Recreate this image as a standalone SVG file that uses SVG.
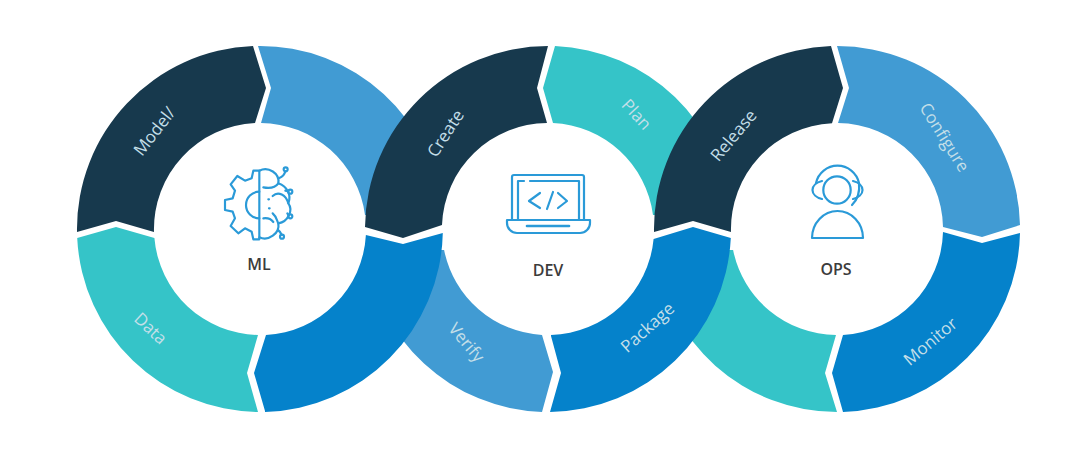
<svg xmlns="http://www.w3.org/2000/svg" width="1080" height="449" viewBox="0 0 1080 449">
<style>
.dark{fill:#17394d}.light{fill:#419bd3}.teal{fill:#35c4c8}.blue{fill:#0582cb}
.seg{font-family:"Open Sans","Liberation Sans",sans-serif;font-size:17px;fill:#c4dfe8;text-anchor:middle;dominant-baseline:central}
.hub{font-family:"Open Sans","Liberation Sans",sans-serif;font-size:16px;font-weight:600;fill:#3c3c3c;text-anchor:middle;dominant-baseline:central}
.ico{fill:none;stroke:#2a9ad8;stroke-width:2.2;stroke-linecap:round;stroke-linejoin:round}
</style>
<rect width="1080" height="449" fill="#fff"/>
<g id="connectors"/>
<g id="under-segments">
<g id="seg-ml-top"><path class="light" d="M258,46 A183,183 0 0 1 442.5,215 L365,215 A106,106 0 0 0 261,123 L271,88 Z"/></g>
<g id="seg-verify"><path class="light" d="M542,335 L553,372 L542,411.9 A183,183 0 0 1 366.2,250 L444.1,250 A106,106 0 0 0 542,335 Z"/><text class="seg" transform="translate(467,342) rotate(50)">Verify</text></g>
<g id="seg-plan"><path class="teal" d="M555,46.1 A183,183 0 0 1 730.5,215 L653,215 A106,106 0 0 0 553,123 L543,88 Z"/><text class="seg" transform="translate(637,114) rotate(47)">Plan</text></g>
<g id="seg-ops-bottom"><path class="teal" d="M836,335 L825,373 L837,412 A183,183 0 0 1 655.2,250 L733.1,250 A106,106 0 0 0 836,335 Z"/></g>
</g>
<g id="seg-model"><path class="dark" d="M77,232 A183,183 0 0 1 253,46.1 L266,88 L255,123.1 A106,106 0 0 0 154,232 L116,221 Z"/><text class="seg" transform="translate(154,131) rotate(-52)">Model/</text></g>
<g id="seg-data"><path class="teal" d="M77.2,238 L116,227 L154.4,238 A106,106 0 0 0 258,335 L247,373 L258,412 A183,183 0 0 1 77.2,238 Z"/><text class="seg" transform="translate(151,328) rotate(43)">Data</text></g>
<g id="seg-ml-bottom"><path class="blue" d="M265,411 L254,373 L266,335 A106,106 0 0 0 365.9,235 L403,244 L442.8,233 A183,183 0 0 1 265,411.9 Z"/></g>
<g id="seg-create"><path class="dark" d="M548,46 L537,88 L547,123 A106,106 0 0 0 442,225 L403,238 L365,227 A183,183 0 0 1 548,46 Z"/><text class="seg" transform="translate(445,133) rotate(-57)">Create</text></g>
<g id="seg-package"><path class="blue" d="M551,336 L561,373 L550,412 A183,183 0 0 0 730.8,238 L693,227 L653.6,239 A106,106 0 0 1 551,335 Z"/><text class="seg" transform="translate(647,327) rotate(-42)">Package</text></g>
<g id="seg-release"><path class="dark" d="M831,46.1 L843,88 L832,123.2 A106,106 0 0 0 731,232 L693,221 L654,232 A183,183 0 0 1 831,46.1 Z"/><text class="seg" transform="translate(733,135) rotate(-50)">Release</text></g>
<g id="seg-configure"><path class="light" d="M837,46 L849,88 L838,123 A106,106 0 0 1 943,227 L982,237 L1020,225 A183,183 0 0 0 837,46 Z"/><text class="seg" transform="translate(945,137) rotate(58)">Configure</text></g>
<g id="seg-monitor"><path class="blue" d="M843,335 L832,373 L843,412 A183,183 0 0 0 1020,233 L982,243 L943,232 A106,106 0 0 1 843,335 Z"/><text class="seg" transform="translate(930,341) rotate(-40)">Monitor</text></g>
<g id="node-ml">
<g class="ico" transform="translate(200,150) scale(.3333)" style="stroke-width:6.5">
<path d="M178,62 L160,62 L155,85 L135,92 L112,78 L92,103 L105,122 L98,145 L75,150 L75,180 L98,185 L105,205 L92,228 L115,250 L135,235 L155,245 L160,268 L178,268 Z"/>
<path d="M178,125 A40,40 0 0 0 178,205"/>
<path d="M178,62 C205,48 240,70 235,100 C262,110 275,135 265,160 C280,180 265,215 235,220 C240,250 205,275 178,262"/>
<path d="M190,112 C212,116 228,110 235,100 M218,138 C235,122 258,135 265,160 M218,190 C232,202 230,212 235,220 M190,205 C205,203 214,208 220,216"/>
<path d="M238,84 C250,80 254,72 256,64 M256,122 L265,124 M262,190 L266,196 M234,240 C240,244 243,250 245,254"/>
<circle cx="257" cy="58" r="6"/><circle cx="271" cy="125" r="6"/><circle cx="271" cy="199" r="6"/><circle cx="246" cy="260" r="6"/>
<path d="M205,148 h2 M207,175 h2"/>
</g>
<text class="hub" x="259" y="264">ML</text>
</g>
<g id="node-dev">
<g class="ico">
<path d="M512,220 V177 a2,2 0 0 1 2,-2 H582 a2,2 0 0 1 2,2 V220"/>
<path d="M518,220 V181 H524 M530,181 H579 V220"/>
<path d="M507,220 H590 V223 a10,10 0 0 1 -10,10 H517 a10,10 0 0 1 -10,-10 Z"/>
<path d="M527,226 H569" stroke-width="2.6"/>
<path d="M540,193 L529,201 L540,208 M553,192 L547,209 M558,193 L567,201 L558,208"/>
</g>
<text class="hub" x="548" y="270">DEV</text>
</g>
<g id="node-ops">
<g class="ico">
<circle cx="837" cy="190" r="13.7"/>
<path d="M816,183 A22,22 0 0 1 859,183 C860,192 857,200 852,205"/>
<path d="M822,181 A14,9.5 0 0 0 822,199 M853,181 A14,9.5 0 0 1 853,199"/>
<path d="M812,238 A25.5,27 0 0 1 863,238 Z"/>
</g>
<text class="hub" x="836" y="269">OPS</text>
</g>
</svg>
